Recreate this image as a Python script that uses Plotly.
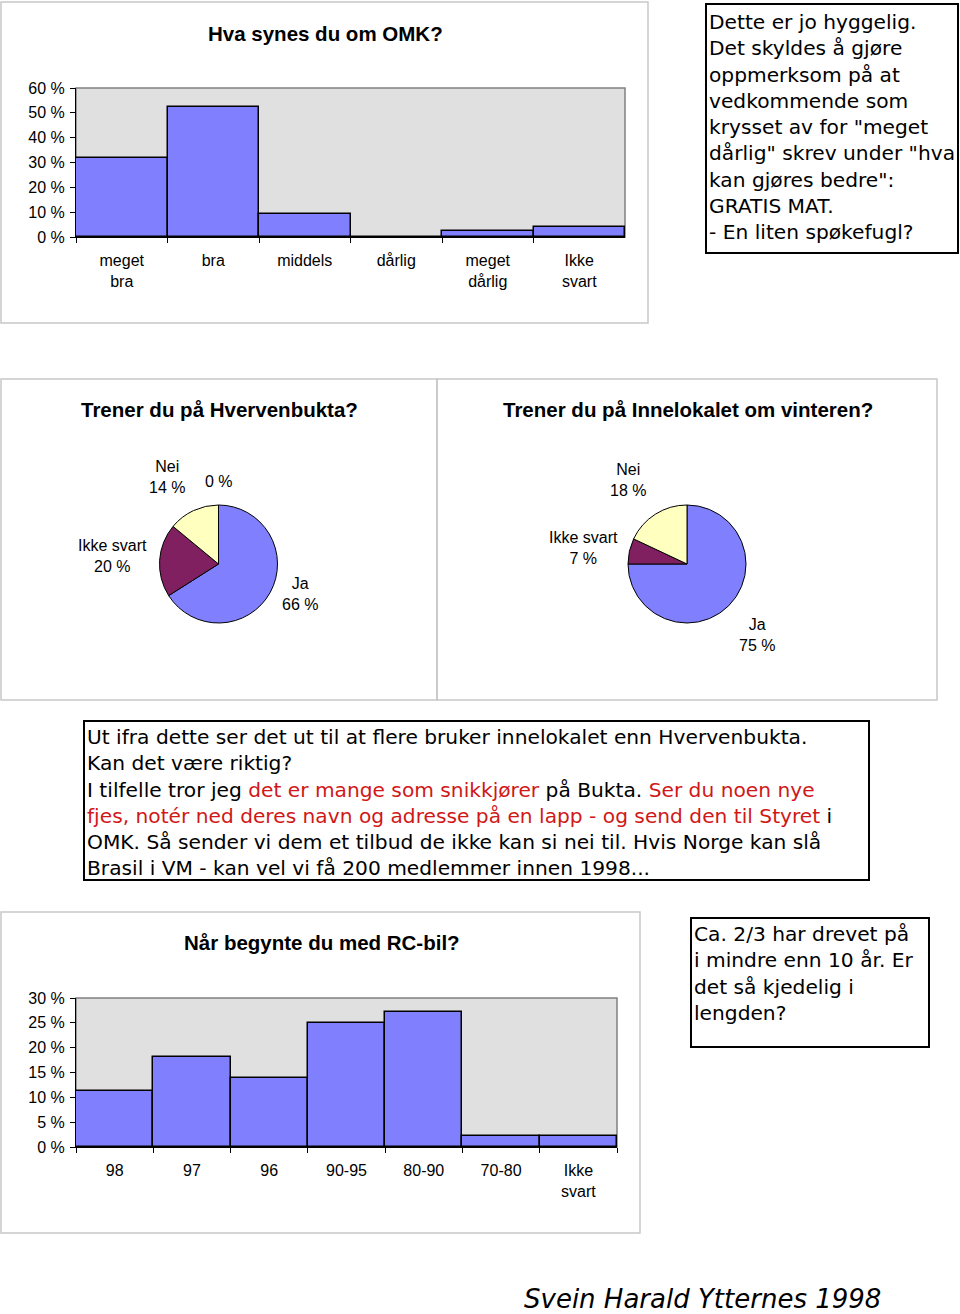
import plotly.graph_objects as go

# Data
omk_cats = ["meget bra", "bra", "middels", "dårlig", "meget dårlig", "Ikke svart"]
omk_vals = [31.8, 52.5, 9.4, 0, 2.5, 4.2]

bukta_labels = ["Ja", "Ikke svart", "Nei", ""]
bukta_vals = [66, 20, 14, 0]

inne_labels = ["Ja", "Ikke svart", "Nei"]
inne_vals = [75, 7, 18]

rc_cats = ["98", "97", "96", "90-95", "80-90", "70-80", "Ikke svart"]
rc_vals = [11.2, 18.1, 13.8, 24.9, 27.1, 2.2, 2.2]

W, H = 960, 1314
def px(x): return x / W
def py(y): return 1 - y / H

BAR = "#8080FF"
pie_colors = {"Ja": "#8080FF", "Ikke svart": "#802060", "Nei": "#FFFFC0", "": "#FFFFC0"}
AX_FONT = dict(family="Liberation Sans, Arial", size=16, color="black")
TITLE_FONT = dict(family="Liberation Sans, Arial", size=20.5, color="black")
BOX_FONT = dict(family="DejaVu Sans", size=20.2, color="black")
RED = "#D01818"

fig = go.Figure()

# Søylediagram 1
fig.add_trace(go.Bar(x=omk_cats, y=omk_vals, marker=dict(color=BAR, line=dict(color="black", width=1.5)),
                     xaxis="x", yaxis="y", showlegend=False))
# Søylediagram 2
fig.add_trace(go.Bar(x=rc_cats, y=rc_vals, marker=dict(color=BAR, line=dict(color="black", width=1.5)),
                     xaxis="x2", yaxis="y2", showlegend=False))

# Kakediagrammer
fig.add_trace(go.Pie(labels=bukta_labels, values=bukta_vals, sort=False, direction="clockwise",
                     marker=dict(colors=[pie_colors[l] for l in bukta_labels], line=dict(color="black", width=1)),
                     textinfo="none", hoverinfo="label+percent", showlegend=False,
                     domain=dict(x=[px(159.5), px(277.5)], y=[py(623), py(505)])))
fig.add_trace(go.Pie(labels=inne_labels, values=inne_vals, sort=False, direction="clockwise",
                     marker=dict(colors=[pie_colors[l] for l in inne_labels], line=dict(color="black", width=1)),
                     textinfo="none", hoverinfo="label+percent", showlegend=False,
                     domain=dict(x=[px(628), px(746)], y=[py(623), py(505)])))

def xaxis_cfg(x0, x1, cats):
    return dict(domain=[px(x0), px(x1)], type="category", tickson="boundaries", ticks="outside",
                ticklen=5, tickcolor="black", showline=True, linecolor="black", linewidth=1,
                tickvals=cats, ticktext=[c.replace(" ", "<br>") for c in cats], automargin=False,
                tickfont=AX_FONT, ticklabelstandoff=9, showgrid=False, fixedrange=True)

def yaxis_cfg(y0, y1, top, step):
    return dict(domain=[py(y1), py(y0)], range=[0, top], dtick=step, ticks="outside", ticklen=5,
                tickcolor="black", showline=True, linecolor="black", linewidth=1, ticksuffix=" %",
                tickfont=AX_FONT, showgrid=False, zeroline=False, ticklabelstandoff=2,
                automargin=False, fixedrange=True)

fig.update_layout(
    width=W, height=H, margin=dict(l=0, r=0, t=0, b=0, pad=0, autoexpand=False),
    paper_bgcolor="white", plot_bgcolor="#E0E0E0", bargap=0,
    xaxis=xaxis_cfg(76, 625, omk_cats), yaxis=yaxis_cfg(88, 237, 60, 10),
    xaxis2=xaxis_cfg(76, 617, rc_cats), yaxis2=yaxis_cfg(998, 1147, 30, 5),
)
fig.update_layout(yaxis2_anchor="x2", xaxis2_anchor="y2")

shapes = []
def rect(x0, y0, x1, y1, color, width):
    shapes.append(dict(type="rect", xref="paper", yref="paper", x0=px(x0), x1=px(x1),
                       y0=py(y1), y1=py(y0), line=dict(color=color, width=width), layer="below"))

# rammer rundt diagrammene
rect(1, 2, 648, 323, "#C8C8C8", 1.5)
rect(1, 379, 437, 700, "#C8C8C8", 1.5)
rect(437, 379, 937, 700, "#C8C8C8", 1.5)
rect(1, 912, 640, 1233, "#C8C8C8", 1.5)
# grå kant rundt plottområdet
rect(76, 88, 625, 237, "#808080", 1.5)
rect(76, 998, 617, 1147, "#808080", 1.5)
# tekstbokser
rect(706, 4, 958, 253, "black", 2)
rect(84, 721, 869, 880, "black", 2)
rect(691, 918, 929, 1047, "black", 2)
fig.update_layout(shapes=shapes)

ann = []
def text(x, y, s, font, xanchor="center", yanchor="middle", align="center"):
    ann.append(dict(x=px(x), y=py(y), xref="paper", yref="paper", text=s, showarrow=False,
                    font=font, xanchor=xanchor, yanchor=yanchor, align=align))

text(325, 33, "<b>Hva synes du om OMK?</b>", TITLE_FONT)
text(219, 409, "<b>Trener du på Hvervenbukta?</b>", TITLE_FONT)
text(688, 409, "<b>Trener du på Innelokalet om vinteren?</b>", TITLE_FONT)
text(322, 942, "<b>Når begynte du med RC-bil?</b>", TITLE_FONT)

def pie_label(lbl, v):
    return (lbl + "<br>" if lbl else "") + f"{v} %"

bukta_pos = [(300, 594), (112, 556), (167, 477), (219, 481)]
inne_pos = [(757, 635), (583, 548), (628, 480)]
for (x, y), l, v in zip(bukta_pos, bukta_labels, bukta_vals):
    text(x, y, pie_label(l, v), AX_FONT)
for (x, y), l, v in zip(inne_pos, inne_labels, inne_vals):
    text(x, y, pie_label(l, v), AX_FONT)

box1 = ["Dette er jo hyggelig.", "Det skyldes å gjøre", "oppmerksom på at", "vedkommende som",
        "krysset av for \"meget", "dårlig\" skrev under \"hva", "kan gjøres bedre\":", "GRATIS MAT.",
        "- En liten spøkefugl?"]
text(707, 127.5, "<br>".join(box1), BOX_FONT, xanchor="left", align="left")

r = lambda s: f"<span style='color:{RED}'>{s}</span>"
box2 = ["Ut ifra dette ser det ut til at flere bruker innelokalet enn Hvervenbukta.",
        "Kan det være riktig?",
        "I tilfelle tror jeg " + r("det er mange som snikkjører") + " på Bukta. " + r("Ser du noen nye"),
        r("fjes, notér ned deres navn og adresse på en lapp - og send den til Styret") + " i",
        "OMK. Så sender vi dem et tilbud de ikke kan si nei til. Hvis Norge kan slå",
        "Brasil i VM - kan vel vi få 200 medlemmer innen 1998..."]
text(85, 802.5, "<br>".join(box2), BOX_FONT, xanchor="left", align="left")

box3 = ["Ca. 2/3 har drevet på", "i mindre enn 10 år. Er", "det så kjedelig i", "lengden?"]
text(692, 973.5, "<br>".join(box3), BOX_FONT, xanchor="left", align="left")

text(702, 1299, "<i>Svein Harald Ytternes 1998</i>", dict(family="DejaVu Sans", size=26, color="black"))

fig.update_layout(annotations=ann)
fig.write_html("out.html", config={"displayModeBar": False},
               post_script="document.body.style.margin='0';document.body.style.overflow='hidden';")
